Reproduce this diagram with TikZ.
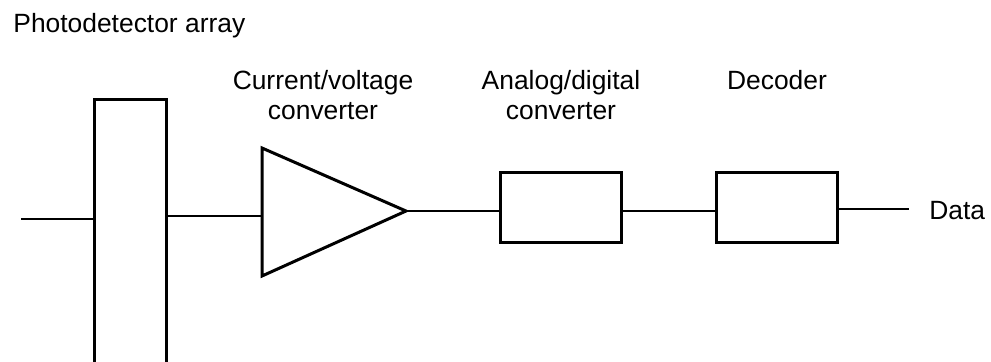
\documentclass[tikz,border=0pt]{standalone}
\usepackage{fontspec}
\setmainfont{Liberation Sans}
\begin{document}
\begin{tikzpicture}[x=0.5pt,y=-0.5pt,
  thickline/.style={line width=1.5pt},
  wire/.style={line width=0.65pt},
  lbl/.style={font=\fontsize{13.2pt}{15pt}\selectfont, inner sep=0pt, align=center},
  blockbox/.style={draw, line width=1.5pt, minimum width=60.5pt, minimum height=35pt, inner sep=0pt}]
\useasboundingbox (0,0) rectangle (991,361);
\clip (0,0) rectangle (991,361);
% photodetector array (open at the bottom, cut by the frame)
\node[draw, thickline, minimum width=36pt, minimum height=150pt, inner sep=0pt, anchor=north west] (pd) at (93,98) {};
% amplifier triangle
\coordinate (tA) at (262,148);
\coordinate (tB) at (262,276);
\coordinate (tC) at (406,211);
\draw[thickline, line join=miter] (tA) -- (tC) -- (tB) -- cycle;
% blocks
\node[blockbox] (adc) at (561,207) {};
\node[blockbox] (dec) at (777,207) {};
% wires
\coordinate (inL) at (21,219);
\draw[wire] (inL) -- (pd.west |- inL);
\coordinate (ampIn) at (262,216);
\draw[wire] (pd.east |- ampIn) -- (ampIn);
\draw[wire] (tC) -- (tC -| adc.west);
\draw[wire] (adc.east |- tC) -- (dec.west |- tC);
\coordinate (outR) at (909,209);
\draw[wire] (dec.east |- outR) -- (outR);
% labels
\node[lbl, anchor=west] (lpd) at (13,26) {Photodetector array};
\node[lbl] (lcv) at (323,95) {Current/voltage\\converter};
\node[lbl] (ladc) at (561,95) {Analog/digital\\converter};
\node[lbl] (ldec) at (777,80) {Decoder};
\node[lbl, anchor=west] (ldata) at (929,211) {Data};
\end{tikzpicture}
\end{document}
